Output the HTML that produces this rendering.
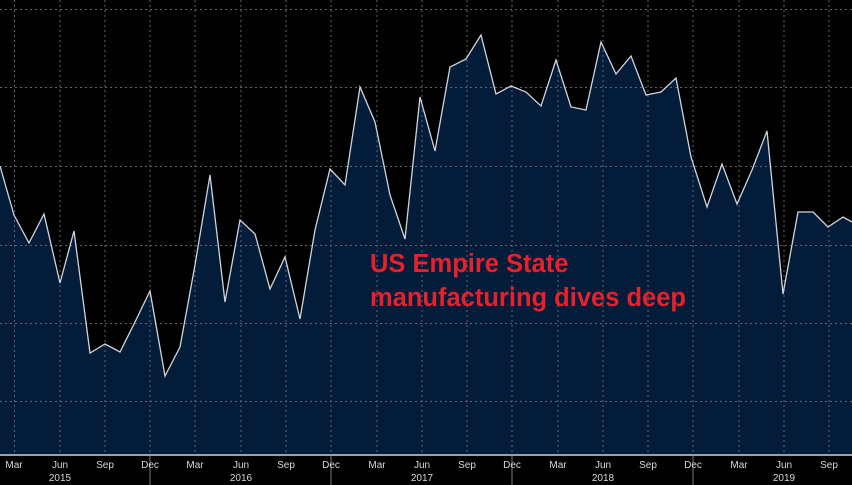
<!DOCTYPE html>
<html><head><meta charset="utf-8"><style>
body{margin:0;background:#000;}
svg{display:block;}
</style></head><body>
<svg width="852" height="485" xmlns="http://www.w3.org/2000/svg" font-family="Liberation Sans, sans-serif">
<rect width="852" height="485" fill="#000"/>
<path d="M0,166 L14,215 L29,243 L44,214 L60,283 L74,231 L90,353 L105,344 L120,352 L135,322 L150,291 L165,376 L180,347 L195,265 L210,175 L225,302 L240,220 L255,234 L270,289 L285,257 L300,319 L315,230 L330,169 L345,185 L360,87 L375,122 L390,195 L405,239 L420,97 L435,151 L450,67 L466,59 L481,35 L496,94 L511,86 L526,92 L541,106 L556,60 L571,107 L586,110 L601,42 L616,74 L631,56 L646,95 L661,92 L676,78 L691,157 L707,207 L722,164 L737,204 L752,170 L767,131 L783,294 L798,212 L813,212 L828,227 L843,217 L852,222 L852,454 L0,454 Z" fill="#021c3a"/>
<g stroke="#6a6f78" stroke-width="1" stroke-dasharray="2,3" opacity="0.9">
<line x1="0" y1="9.5" x2="852" y2="9.5"/><line x1="0" y1="87.5" x2="852" y2="87.5"/><line x1="0" y1="166.5" x2="852" y2="166.5"/><line x1="0" y1="245.5" x2="852" y2="245.5"/><line x1="0" y1="323.5" x2="852" y2="323.5"/><line x1="0" y1="401.5" x2="852" y2="401.5"/>
<line x1="14.5" y1="0" x2="14.5" y2="454"/><line x1="60" y1="0" x2="60" y2="454"/><line x1="105" y1="0" x2="105" y2="454"/><line x1="150" y1="0" x2="150" y2="454"/><line x1="195" y1="0" x2="195" y2="454"/><line x1="241" y1="0" x2="241" y2="454"/><line x1="286" y1="0" x2="286" y2="454"/><line x1="331" y1="0" x2="331" y2="454"/><line x1="377" y1="0" x2="377" y2="454"/><line x1="422" y1="0" x2="422" y2="454"/><line x1="467" y1="0" x2="467" y2="454"/><line x1="512" y1="0" x2="512" y2="454"/><line x1="558" y1="0" x2="558" y2="454"/><line x1="603" y1="0" x2="603" y2="454"/><line x1="648" y1="0" x2="648" y2="454"/><line x1="693" y1="0" x2="693" y2="454"/><line x1="739" y1="0" x2="739" y2="454"/><line x1="784" y1="0" x2="784" y2="454"/><line x1="829" y1="0" x2="829" y2="454"/>
</g>
<polyline fill="none" stroke="#d0d4da" stroke-width="1.3" points="0,166 14,215 29,243 44,214 60,283 74,231 90,353 105,344 120,352 135,322 150,291 165,376 180,347 195,265 210,175 225,302 240,220 255,234 270,289 285,257 300,319 315,230 330,169 345,185 360,87 375,122 390,195 405,239 420,97 435,151 450,67 466,59 481,35 496,94 511,86 526,92 541,106 556,60 571,107 586,110 601,42 616,74 631,56 646,95 661,92 676,78 691,157 707,207 722,164 737,204 752,170 767,131 783,294 798,212 813,212 828,227 843,217 852,222"/>
<line x1="0" y1="455" x2="852" y2="455" stroke="#9aa0a8" stroke-width="2"/>
<g stroke="#777" stroke-width="1">
<line x1="150" y1="456" x2="150" y2="485"/><line x1="331" y1="456" x2="331" y2="485"/><line x1="512" y1="456" x2="512" y2="485"/><line x1="693" y1="456" x2="693" y2="485"/>
</g>
<g fill="#d8d8d8" font-size="10" text-anchor="middle">
<text x="14" y="468">Mar</text><text x="60" y="468">Jun</text><text x="105" y="468">Sep</text><text x="150" y="468">Dec</text><text x="195" y="468">Mar</text><text x="241" y="468">Jun</text><text x="286" y="468">Sep</text><text x="331" y="468">Dec</text><text x="377" y="468">Mar</text><text x="422" y="468">Jun</text><text x="467" y="468">Sep</text><text x="512" y="468">Dec</text><text x="558" y="468">Mar</text><text x="603" y="468">Jun</text><text x="648" y="468">Sep</text><text x="693" y="468">Dec</text><text x="739" y="468">Mar</text><text x="784" y="468">Jun</text><text x="829" y="468">Sep</text>
<text x="60" y="481">2015</text><text x="241" y="481">2016</text><text x="422" y="481">2017</text><text x="603" y="481">2018</text><text x="784" y="481">2019</text>
</g>
<g fill="#e8202c" font-size="25.5" font-weight="bold">
<text x="370" y="272">US Empire State</text>
<text x="370" y="306">manufacturing dives deep</text>
</g>
</svg>
</body></html>
